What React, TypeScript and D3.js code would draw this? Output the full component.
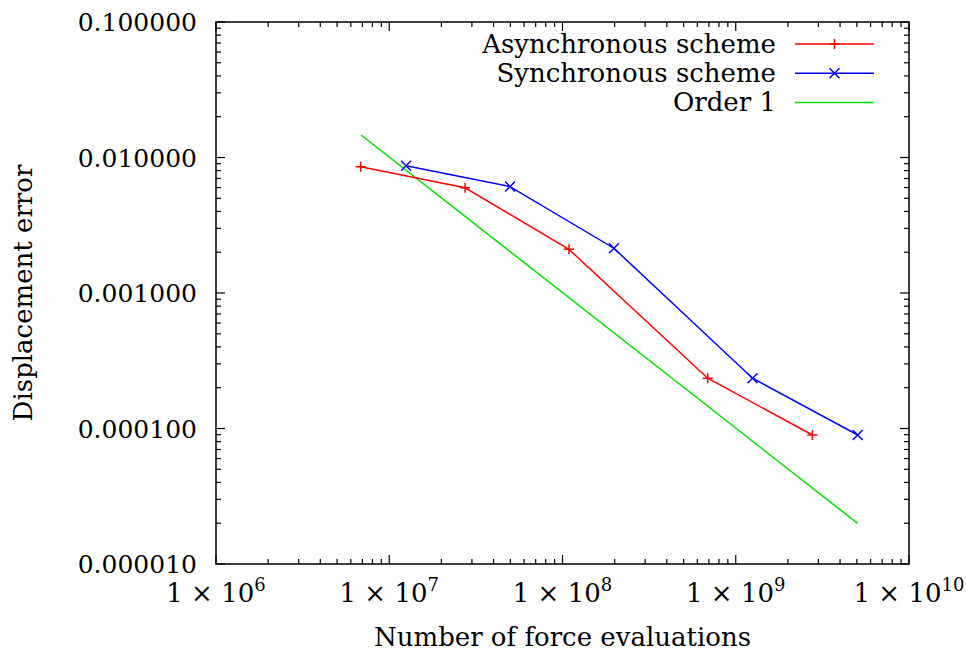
import { useEffect, useRef } from "react";
import * as d3 from "d3";

// data
const asyncEvals = [6.84e6, 2.74e7, 1.09e8, 6.89e8, 2.77e9];
const asyncError = [8.55e-3, 5.98e-3, 2.1e-3, 2.35e-4, 8.95e-5];
const syncEvals = [1.25e7, 4.98e7, 1.98e8, 1.25e9, 5.06e9];
const syncError = [8.7e-3, 6.1e-3, 2.14e-3, 2.35e-4, 8.95e-5];
const orderEvals = [6.87e6, 5.05e9];
const orderError = [1.466e-2, 1.995e-5];

const xTickExponents = [6, 7, 8, 9, 10];
const yTickLabels = ["0.000010", "0.000100", "0.001000", "0.010000", "0.100000"];
const legendNames = ["Asynchronous scheme", "Synchronous scheme", "Order 1"];

const W = 966;
const H = 651;
const margin = { left: 216, right: W - 909, top: 22, bottom: H - 564 };
const FONT = "DejaVu Serif";
const FS = 26;

export default function App() {
  const svgRef = useRef<SVGSVGElement>(null);

  useEffect(() => {
    if (!svgRef.current) return;
    const svg = d3.select(svgRef.current);
    svg.selectAll("*").remove();

    const x = d3.scaleLog().domain([1e6, 1e10]).range([margin.left, W - margin.right]);
    const y = d3.scaleLog().domain([1e-5, 1e-1]).range([H - margin.bottom, margin.top]);
    const [x0, x1] = x.range();
    const [y0, y1] = y.range();

    const g = svg.append("g");

    // minor / major ticks on all four sides, pointing inward
    const xTicks: { v: number; major: boolean }[] = [];
    for (let e = 6; e < 10; e++) {
      for (let k = 1; k < 10; k++) xTicks.push({ v: k * Math.pow(10, e), major: k === 1 });
    }
    xTicks.push({ v: 1e10, major: true });
    const yTicks: { v: number; major: boolean }[] = [];
    for (let e = -5; e < -1; e++) {
      for (let k = 1; k < 10; k++) yTicks.push({ v: k * Math.pow(10, e), major: k === 1 });
    }
    yTicks.push({ v: 1e-1, major: true });

    const tickG = g.append("g").attr("stroke", "#000").attr("stroke-width", 1.2);
    xTicks.forEach((t) => {
      const px = x(t.v);
      const len = t.major ? 9 : 5;
      tickG.append("line").attr("x1", px).attr("x2", px).attr("y1", y0).attr("y2", y0 - len);
      tickG.append("line").attr("x1", px).attr("x2", px).attr("y1", y1).attr("y2", y1 + len);
    });
    yTicks.forEach((t) => {
      const py = y(t.v);
      const len = t.major ? 9 : 5;
      tickG.append("line").attr("x1", x0).attr("x2", x0 + len).attr("y1", py).attr("y2", py);
      tickG.append("line").attr("x1", x1).attr("x2", x1 - len).attr("y1", py).attr("y2", py);
    });

    // frame
    g.append("rect")
      .attr("x", x0)
      .attr("y", y1)
      .attr("width", x1 - x0)
      .attr("height", y0 - y1)
      .attr("fill", "none")
      .attr("stroke", "#000")
      .attr("stroke-width", 1.5);

    const txt = (sel: d3.Selection<SVGGElement, unknown, null, undefined>) =>
      sel.append("text").attr("font-family", FONT).attr("font-size", FS).attr("fill", "#000");

    // y tick labels
    yTickLabels.forEach((lab, i) => {
      txt(g)
        .attr("x", 197)
        .attr("y", y(Math.pow(10, -5 + i)) + 9)
        .attr("text-anchor", "end")
        .attr("font-size", 25)
        .text(lab);
    });

    // x tick labels 1 x 10^n
    xTickExponents.forEach((e) => {
      const t = txt(g)
        .attr("x", x(Math.pow(10, e)))
        .attr("y", 602)
        .attr("text-anchor", "middle");
      t.append("tspan").text("1 \u00d7 10");
      t.append("tspan").attr("dy", -11).attr("font-size", 18).text(String(e));
    });

    // axis titles
    txt(g)
      .attr("x", (x0 + x1) / 2)
      .attr("y", 646)
      .attr("text-anchor", "middle")
      .text("Number of force evaluations");
    txt(g)
      .attr("transform", `translate(32, ${(y0 + y1) / 2}) rotate(-90)`)
      .attr("text-anchor", "middle")
      .text("Displacement error");

    const line = d3.line<[number, number]>().x((d) => x(d[0])).y((d) => y(d[1]));
    const series = [
      { ev: orderEvals, er: orderError, color: "#00e000", marker: "none" },
      { ev: asyncEvals, er: asyncError, color: "#ff0000", marker: "plus" },
      { ev: syncEvals, er: syncError, color: "#0000ff", marker: "cross" },
    ];

    const drawMarker = (sel: d3.Selection<SVGGElement, unknown, null, undefined>, kind: string, cx: number, cy: number, color: string) => {
      const s = 5;
      if (kind === "plus") {
        sel.append("path").attr("d", `M${cx - s},${cy}H${cx + s}M${cx},${cy - s}V${cy + s}`)
          .attr("stroke", color).attr("stroke-width", 1.5).attr("fill", "none");
      } else if (kind === "cross") {
        sel.append("path").attr("d", `M${cx - s},${cy - s}L${cx + s},${cy + s}M${cx - s},${cy + s}L${cx + s},${cy - s}`)
          .attr("stroke", color).attr("stroke-width", 1.5).attr("fill", "none");
      }
    };

    const dataG = g.append("g");
    series.forEach((s) => {
      const pts = s.ev.map((v, i) => [v, s.er[i]] as [number, number]);
      dataG.append("path")
        .attr("d", line(pts) || "")
        .attr("fill", "none")
        .attr("stroke", s.color)
        .attr("stroke-width", 1.5);
      pts.forEach((p) => drawMarker(dataG, s.marker, x(p[0]), y(p[1]), s.color));
    });

    // legend
    const legendOrder = [series[1], series[2], series[0]];
    legendNames.forEach((name, i) => {
      const ly = 44 + i * 29.3;
      txt(g)
        .attr("x", 776)
        .attr("y", ly + 8.5)
        .attr("text-anchor", "end")
        .text(name);
      const s = legendOrder[i];
      g.append("line")
        .attr("x1", 795).attr("x2", 874).attr("y1", ly).attr("y2", ly)
        .attr("stroke", s.color).attr("stroke-width", 1.5);
      drawMarker(g, s.marker, 834.5, ly, s.color);
    });
  }, []);

  return (
    <svg
      ref={svgRef}
      width={W}
      height={H}
      style={{ position: "absolute", left: 0, top: 0, background: "#fff" }}
    />
  );
}
